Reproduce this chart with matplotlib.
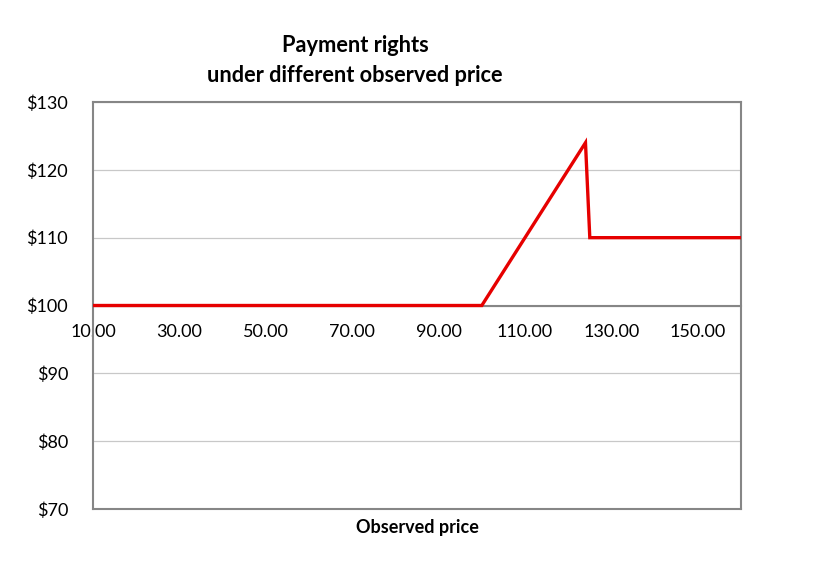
import matplotlib
matplotlib.use("Agg")
import matplotlib.pyplot as plt

# observed price vs payment right
prices = [10, 100, 124, 125, 160]
payment = [100, 100, 124, 110, 110]
x_ticks = [10, 30, 50, 70, 90, 110, 130, 150]
y_ticks = [70, 80, 90, 100, 110, 120, 130]

plt.rcParams["font.family"] = ["Lato", "DejaVu Sans"]

fig = plt.figure(figsize=(8.33, 5.70), dpi=100)
ax = fig.add_axes([93 / 833, 1 - 509 / 570, 648 / 833, 407 / 570])

frame = "#868686"
ax.plot(prices, payment, color="#E60000", lw=2.4, zorder=5, solid_joinstyle="miter")

ax.set_xlim(10, 160)
ax.set_ylim(70, 130)
ax.set_xticks(x_ticks)
ax.set_xticklabels([f"{v:.2f}" for v in x_ticks])
ax.set_yticks(y_ticks)
ax.set_yticklabels([f"${v}" for v in y_ticks])
ax.grid(True, axis="y", color="#C8C8C8", lw=0.9)
ax.set_axisbelow(True)

# x axis crosses at 100
ax.spines["bottom"].set_position(("data", 100))
for s in ["left", "top", "right", "bottom"]:
    ax.spines[s].set_color(frame)
    ax.spines[s].set_linewidth(1.5)
ax.axhline(70, color=frame, lw=1.5, clip_on=False)

ax.tick_params(axis="x", length=0, pad=13, labelsize=13)
ax.tick_params(axis="y", length=0, pad=18, labelsize=13)

fig.text(355 / 833, 1 - 45 / 570, "Payment rights", ha="center", va="center",
         fontsize=15.7, fontweight="bold")
fig.text(355 / 833, 1 - 76 / 570, "under different observed price", ha="center", va="center",
         fontsize=15.7, fontweight="bold")
fig.text(417 / 833, 1 - 527 / 570, "Observed price", ha="center", va="center",
         fontsize=13, fontweight="bold")

fig.savefig("out.png", dpi=100)
